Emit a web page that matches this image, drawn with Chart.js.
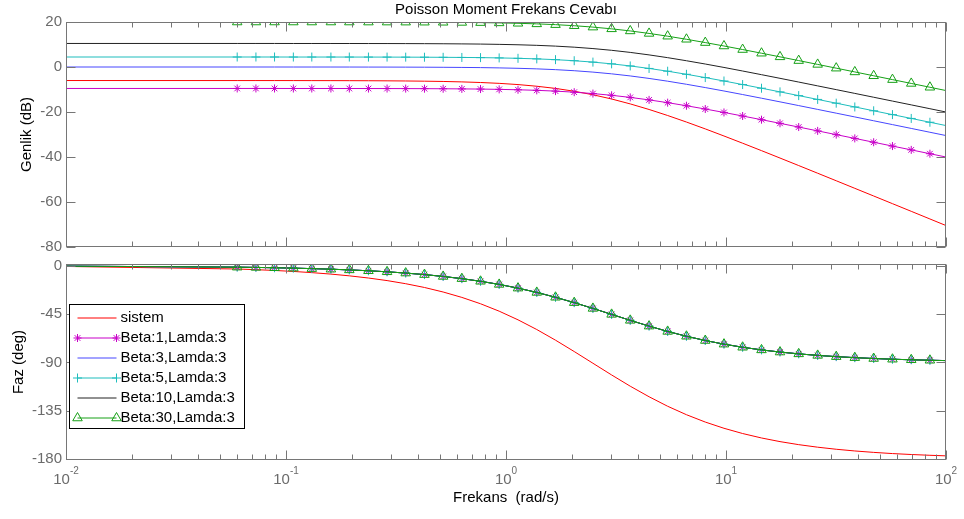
<!DOCTYPE html>
<html>
<head>
<meta charset="utf-8">
<script src="https://cdn.jsdelivr.net/npm/chart.js@4.4.1/dist/chart.umd.min.js"></script>
<style>
  html, body { margin: 0; padding: 0; background: #fff; }
  #wrap { position: relative; width: 964px; height: 519px; overflow: hidden; }
  #wrap canvas { position: absolute; left: 0; }
  #mag { top: 0; }
  #phase { top: 251px; }
</style>
</head>
<body>
<div id="wrap">
  <canvas id="mag" width="964" height="260"></canvas>
  <canvas id="phase" width="964" height="268"></canvas>
</div>
<script>
/* Bode plot of the system and the Poisson-moment filters (magnitude + phase).
   Values at the marker frequencies. */

var TITLE = "Poisson Moment Frekans Cevabı";
var NAMES = ["sistem", "Beta:1,Lamda:3", "Beta:3,Lamda:3", "Beta:5,Lamda:3", "Beta:10,Lamda:3", "Beta:30,Lamda:3"];

// rad/s; first and last entries are the axis ends (no marker drawn there)
var FREQ = [0.01, 0.06, 0.073, 0.0887, 0.108, 0.131, 0.16, 0.194, 0.237, 0.288,
  0.35, 0.426, 0.518, 0.63, 0.766, 0.931, 1.134, 1.38, 1.679, 2.042,
  2.484, 3.02, 3.67, 4.47, 5.43, 6.61, 8.05, 9.79, 11.9, 14.5,
  17.6, 21.4, 26.1, 31.7, 38.5, 46.9, 57.1, 69.5, 84.5, 100];

// magnitude, dB
var MAG_SISTEM = [-6.02, -6.03, -6.03, -6.03, -6.04, -6.05, -6.06, -6.08, -6.11, -6.15,
  -6.21, -6.30, -6.43, -6.62, -6.89, -7.27, -7.81, -8.55, -9.52, -10.78,
  -12.34, -14.22, -16.40, -18.88, -21.56, -24.46, -27.51, -30.66, -33.87, -37.18,
  -40.46, -43.80, -47.21, -50.56, -53.92, -57.33, -60.74, -64.14, -67.54, -70.47];
var MAG_B1 = [-9.54, -9.54, -9.54, -9.54, -9.55, -9.55, -9.55, -9.56, -9.57, -9.58,
  -9.60, -9.63, -9.67, -9.73, -9.81, -9.94, -10.12, -10.37, -10.72, -11.19,
  -11.81, -12.58, -13.51, -14.62, -15.85, -17.22, -18.68, -20.20, -21.78, -23.41,
  -25.03, -26.69, -28.39, -30.06, -31.73, -33.44, -35.14, -36.84, -38.54, -40.01];
var MAG_B3 = [0, 0, 0, 0, -0.01, -0.01, -0.01, -0.02, -0.03, -0.04,
  -0.06, -0.09, -0.13, -0.19, -0.27, -0.40, -0.58, -0.83, -1.18, -1.65,
  -2.27, -3.04, -3.97, -5.08, -6.31, -7.68, -9.14, -10.66, -12.24, -13.87,
  -15.49, -17.15, -18.85, -20.52, -22.19, -23.90, -25.60, -27.30, -29.00, -30.47];
var MAG_B5 = [4.44, 4.44, 4.44, 4.44, 4.43, 4.43, 4.43, 4.42, 4.41, 4.40,
  4.38, 4.35, 4.31, 4.25, 4.17, 4.04, 3.86, 3.61, 3.26, 2.79,
  2.17, 1.40, 0.47, -0.64, -1.87, -3.24, -4.70, -6.22, -7.80, -9.43,
  -11.05, -12.71, -14.41, -16.08, -17.75, -19.46, -21.16, -22.86, -24.56, -26.03];
var MAG_B10 = [10.46, 10.46, 10.46, 10.46, 10.45, 10.45, 10.45, 10.44, 10.43, 10.42,
  10.40, 10.37, 10.33, 10.27, 10.19, 10.06, 9.88, 9.63, 9.28, 8.81,
  8.19, 7.42, 6.49, 5.38, 4.15, 2.78, 1.32, -0.20, -1.78, -3.41,
  -5.03, -6.69, -8.39, -10.06, -11.73, -13.44, -15.14, -16.84, -18.54, -20.01];
var MAG_B30 = [20, 20, 20, 20, 19.99, 19.99, 19.99, 19.98, 19.97, 19.96,
  19.94, 19.91, 19.87, 19.81, 19.73, 19.60, 19.42, 19.17, 18.82, 18.35,
  17.73, 16.96, 16.03, 14.92, 13.69, 12.32, 10.86, 9.34, 7.76, 6.13,
  4.51, 2.85, 1.15, -0.52, -2.19, -3.90, -5.60, -7.30, -9.00, -10.47];

// phase, deg
var PHASE_SISTEM = [-0.48, -2.87, -3.48, -4.23, -5.15, -6.25, -7.62, -9.24, -11.28, -13.67,
  -16.59, -20.10, -24.32, -29.35, -35.28, -42.20, -50.26, -59.31, -69.25, -79.84,
  -90.78, -101.67, -112.16, -122.02, -130.87, -138.76, -145.61, -151.41, -156.31, -160.46,
  -163.85, -166.68, -169.06, -170.98, -172.57, -173.90, -175.00, -175.88, -176.61, -177.13];
// the five Beta curves lie on top of each other in the phase plot
var PHASE_BETA = [-0.19, -1.15, -1.39, -1.69, -2.06, -2.50, -3.05, -3.70, -4.52, -5.48,
  -6.66, -8.08, -9.80, -11.86, -14.32, -17.24, -20.71, -24.70, -29.23, -34.24,
  -39.62, -45.19, -50.74, -56.13, -61.08, -65.59, -69.56, -72.96, -75.85, -78.31,
  -80.33, -82.02, -83.44, -84.59, -85.54, -86.34, -87.01, -87.53, -87.97, -88.28];

var MAG_TICKS = [20, 0, -20, -40, -60, -80];
var PHASE_TICKS = [0, -45, -90, -135, -180];
var X_DECADES = [0.01, 0.1, 1, 10, 100];
var X_EXP = ["-2", "-1", "0", "1", "2"];
var X_MINOR = [2, 3, 4, 5, 6, 7, 8, 9];

(function () {
  "use strict";

  var FAMILY = "'Liberation Sans', Arial, Helvetica, sans-serif";
  var INK = "#000000";
  var TICK = "#6b6b6b";
  var AXIS = "#767676";

  Chart.defaults.font.family = FAMILY;
  Chart.defaults.font.size = 15;

  var STYLES = [
    { color: "#ff0000" },
    { color: "#c800c8", marker: "star", r: 4 },
    { color: "#4646ff" },
    { color: "#1ebdbd", marker: "cross", r: 4.5 },
    { color: "#222222" },
    { color: "#16a016", marker: "triangle", r: 5.5 }
  ];

  function datasets(series) {
    return series.map(function (ys, k) {
      var s = STYLES[k];
      return {
        label: NAMES[k],
        data: FREQ.map(function (f, i) { return { x: f, y: ys[i] }; }),
        borderColor: s.color,
        borderWidth: 1,
        tension: 0,
        pointStyle: s.marker || "circle",
        pointRadius: function (c) {
          var last = c.dataset.data.length - 1;
          return (!s.marker || c.dataIndex === 0 || c.dataIndex === last) ? 0 : s.r;
        },
        pointHoverRadius: 0,
        pointBorderColor: s.color,
        pointBackgroundColor: "rgba(0,0,0,0)",
        pointBorderWidth: 1,
        order: series.length - 1 - k
      };
    });
  }

  function yScale(min, max, ticks, title, pad) {
    return {
      min: min, max: max,
      afterFit: function (sc) { sc.width = 66; },
      afterBuildTicks: function (sc) { sc.ticks = ticks.map(function (v) { return { value: v }; }); },
      grid: { display: false, drawTicks: false },
      border: { display: false },
      ticks: { color: TICK, padding: 4, autoSkip: false, font: { size: 15 } },
      title: { display: true, text: title, color: INK, font: { size: 15 }, padding: { top: pad, bottom: 0 } }
    };
  }

  // box + inward tick marks on all four sides, MATLAB style
  function framePlugin(yTicks) {
    return {
      id: "frame",
      afterDatasetsDraw: function (chart) {
        var a = chart.chartArea, ctx = chart.ctx, x = chart.scales.x, y = chart.scales.y;
        function seg(x1, y1, x2, y2) { ctx.moveTo(x1, y1); ctx.lineTo(x2, y2); }
        var L = Math.round(a.left) + 0.5, R = Math.round(a.right) - 0.5;
        var T = Math.round(a.top) + 0.5, B = Math.round(a.bottom) - 0.5;
        ctx.save();
        ctx.strokeStyle = AXIS;
        ctx.lineWidth = 1;
        ctx.beginPath();
        X_DECADES.forEach(function (d, i) {
          var px = Math.round(x.getPixelForValue(d)) + 0.5;
          seg(px, B, px, B - 9); seg(px, T, px, T + 9);
          if (i === X_DECADES.length - 1) return;
          X_MINOR.forEach(function (m) {
            var q = Math.round(x.getPixelForValue(m * d)) + 0.5;
            seg(q, B, q, B - 5); seg(q, T, q, T + 5);
          });
        });
        yTicks.forEach(function (v) {
          var py = Math.round(y.getPixelForValue(v)) + 0.5;
          seg(L, py, L + 9, py); seg(R, py, R - 9, py);
        });
        ctx.stroke();
        ctx.strokeRect(L, T, R - L, B - T);
        ctx.restore();
      }
    };
  }

  var titlePlugin = {
    id: "bodeTitle",
    afterDraw: function (chart) {
      var a = chart.chartArea, ctx = chart.ctx;
      ctx.save();
      ctx.font = "15px " + FAMILY;
      ctx.fillStyle = INK;
      ctx.textAlign = "center";
      ctx.textBaseline = "middle";
      ctx.fillText(TITLE, (a.left + a.right) / 2, 10);
      ctx.restore();
    }
  };

  // 10^n labels with raised exponent
  var xLabels = {
    id: "xLabels",
    afterDraw: function (chart) {
      var a = chart.chartArea, ctx = chart.ctx, x = chart.scales.x;
      ctx.save();
      ctx.fillStyle = TICK;
      ctx.textBaseline = "middle";
      ctx.textAlign = "left";
      X_DECADES.forEach(function (d, i) {
        ctx.font = "15px " + FAMILY;
        var wb = ctx.measureText("10").width;
        ctx.font = "10px " + FAMILY;
        var we = ctx.measureText(X_EXP[i]).width;
        var x0 = x.getPixelForValue(d) - (wb + we) / 2;
        ctx.font = "15px " + FAMILY;
        ctx.fillText("10", x0, a.bottom + 20);
        ctx.font = "10px " + FAMILY;
        ctx.fillText(X_EXP[i], x0 + wb, a.bottom + 11.5);
      });
      ctx.restore();
    }
  };

  var legendBox = {
    id: "legendBox",
    afterDraw: function (chart) {
      var a = chart.chartArea, ctx = chart.ctx;
      var bx = Math.round(a.left) + 3.5, by = Math.round(a.top) + 40.5;
      ctx.save();
      ctx.fillStyle = "#ffffff";
      ctx.fillRect(bx, by, 175, 124);
      ctx.strokeStyle = "#000000";
      ctx.lineWidth = 1;
      ctx.strokeRect(bx, by, 175, 124);
      chart.data.datasets.forEach(function (ds, k) {
        var s = STYLES[k];
        var ry = by + 13.5 + 20 * k;
        var x1 = bx + 8, x2 = bx + 47;
        ctx.strokeStyle = s.color;
        ctx.lineWidth = 1;
        ctx.beginPath();
        ctx.moveTo(x1, ry); ctx.lineTo(x2, ry);
        ctx.stroke();
        if (s.marker) {
          ctx.fillStyle = "rgba(0,0,0,0)";
          [x1, x2].forEach(function (px) {
            Chart.helpers.drawPoint(ctx, { pointStyle: s.marker, radius: s.r, rotation: 0, borderWidth: 1 }, px, ry);
          });
        }
        ctx.fillStyle = INK;
        ctx.font = "15px " + FAMILY;
        ctx.textAlign = "left";
        ctx.textBaseline = "middle";
        ctx.fillText(ds.label, bx + 51, ry);
      });
      ctx.restore();
    }
  };

  new Chart(document.getElementById("mag"), {
    type: "line",
    data: { datasets: datasets([MAG_SISTEM, MAG_B1, MAG_B3, MAG_B5, MAG_B10, MAG_B30]) },
    options: {
      responsive: false, animation: false, events: [],
      layout: { padding: { top: 22, right: 18, bottom: 12, left: 0 } },
      plugins: { legend: { display: false }, tooltip: { enabled: false } },
      scales: {
        x: { type: "logarithmic", min: 0.01, max: 100, display: false },
        y: yScale(-80, 20, MAG_TICKS, "Genlik (dB)", 18)
      }
    },
    plugins: [framePlugin(MAG_TICKS), titlePlugin]
  });

  new Chart(document.getElementById("phase"), {
    type: "line",
    data: { datasets: datasets([PHASE_SISTEM, PHASE_BETA, PHASE_BETA, PHASE_BETA, PHASE_BETA, PHASE_BETA]) },
    options: {
      responsive: false, animation: false, events: [],
      layout: { padding: { top: 9, right: 18, bottom: 0, left: 0 } },
      plugins: { legend: { display: false }, tooltip: { enabled: false } },
      scales: {
        x: {
          type: "logarithmic", min: 0.01, max: 100,
          afterFit: function (sc) { sc.height = 59; },
          grid: { display: false, drawTicks: false },
          border: { display: false },
          ticks: { display: false },
          title: { display: true, text: "Frekans  (rad/s)", color: INK, font: { size: 15 }, padding: { top: 0, bottom: 12 } }
        },
        y: yScale(-181, 1.8, PHASE_TICKS, "Faz (deg)", 10)
      }
    },
    plugins: [framePlugin(PHASE_TICKS), xLabels, legendBox]
  });
})();
</script>
</body>
</html>
